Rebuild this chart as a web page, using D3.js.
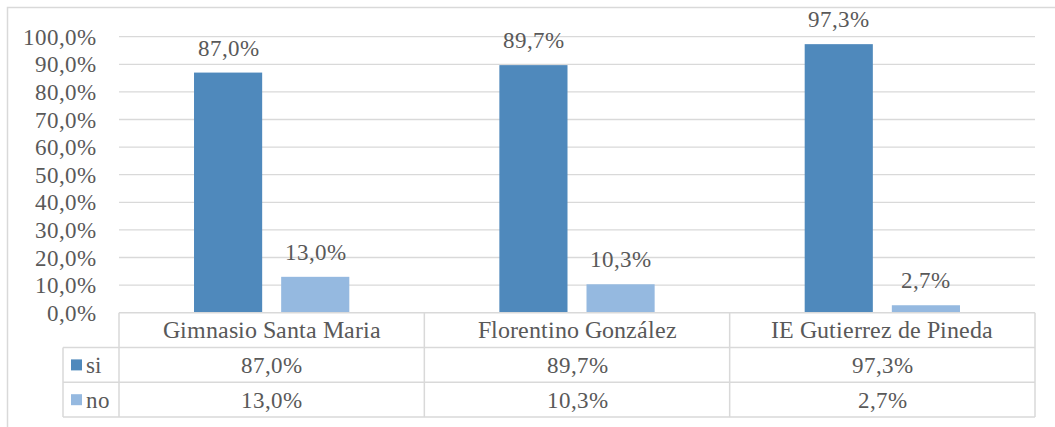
<!DOCTYPE html>
<html>
<head>
<meta charset="utf-8">
<title>si / no</title>
<script src="https://cdn.jsdelivr.net/npm/d3@7"></script>
<style>
  @font-face {
    font-family: "ChartSerif";
    src: local("Liberation Serif"), local("LiberationSerif"), local("LiberationSerif-Regular"),
         local("Times New Roman"), local("DejaVu Serif"), local("DejaVuSerif");
  }
  body { margin: 0; background: #fff; }
  svg text { font-family: "ChartSerif", "Liberation Serif", "Times New Roman", serif; }
</style>
</head>
<body>
<div id="chart"></div>
<script>
// data
var categories = ["Gimnasio Santa Maria", "Florentino González", "IE Gutierrez de Pineda"];
var seriesNames = ["si", "no"];
var siValues = [0.870, 0.897, 0.973];
var noValues = [0.130, 0.103, 0.027];
var yTicks = [0, 0.1, 0.2, 0.3, 0.4, 0.5, 0.6, 0.7, 0.8, 0.9, 1.0];
var colors = { si: "#4f89bc", no: "#95b9e0" };

var W = 1055, H = 427;
var plotLeft = 119, plotRight = 1035, plotTop = 36.7, plotBase = 312.7;
var rowH = 34.8, legendLeft = 63;
var gridColor = "#d9d9d9";
var textColor = "#595959";

var fmt = function(v) { return d3.format(".1f")(v * 100).replace(".", ",") + "%"; };

var svg = d3.select("#chart").append("svg")
  .attr("width", W).attr("height", H)
  .attr("font-size", 23)
  .attr("fill", textColor);

// outer frame
svg.append("rect")
  .attr("x", 7.5).attr("y", 7.5)
  .attr("width", 1070).attr("height", 440)
  .attr("fill", "none").attr("stroke", gridColor).attr("stroke-width", 1.5);

var y = d3.scaleLinear().domain([0, 1]).range([plotBase, plotTop]);
var x0 = d3.scaleBand().domain(categories).range([plotLeft, plotRight]);
var x1 = d3.scaleBand().domain(seriesNames)
  .range([x0.bandwidth() * 0.2457, x0.bandwidth() * 0.7543]).paddingInner(0.218);

// gridlines
svg.append("g").selectAll("line").data(yTicks.slice(1)).enter().append("line")
  .attr("x1", plotLeft).attr("x2", plotRight)
  .attr("y1", d => y(d)).attr("y2", d => y(d))
  .attr("stroke", gridColor).attr("stroke-width", 1.3);

// y axis labels
svg.append("g").selectAll("text").data(yTicks).enter().append("text")
  .attr("x", 96).attr("y", d => y(d))
  .attr("dy", "0.35em")
  .attr("text-anchor", "end")
  .text(fmt);

var rows = categories.map((c, i) => ({ cat: c, si: siValues[i], no: noValues[i] }));

var groups = svg.append("g").selectAll("g").data(rows).enter().append("g")
  .attr("transform", d => "translate(" + x0(d.cat) + ",0)");

groups.selectAll("rect").data(d => seriesNames.map(s => ({ key: s, value: d[s] }))).enter().append("rect")
  .attr("x", d => x1(d.key))
  .attr("y", d => y(d.value))
  .attr("width", x1.bandwidth())
  .attr("height", d => plotBase - y(d.value))
  .attr("fill", d => colors[d.key]);

groups.selectAll("text.lbl").data(d => seriesNames.map(s => ({ key: s, value: d[s] }))).enter().append("text")
  .attr("class", "lbl")
  .attr("x", d => x1(d.key) + x1.bandwidth() / 2)
  .attr("y", d => y(d.value) - 17)
  .attr("text-anchor", "middle")
  .text(d => fmt(d.value));

// data table
var tbl = svg.append("g").attr("stroke", gridColor).attr("stroke-width", 1.5);
var rowYs = [plotBase, plotBase + rowH, plotBase + 2 * rowH, plotBase + 3 * rowH];
rowYs.forEach((yy, i) => {
  tbl.append("line").attr("x1", i === 0 ? plotLeft : legendLeft).attr("x2", plotRight)
    .attr("y1", yy).attr("y2", yy);
});
var colXs = [plotLeft].concat(categories.map(c => x0(c) + x0.bandwidth()));
colXs.forEach(xx => {
  tbl.append("line").attr("x1", xx).attr("x2", xx).attr("y1", plotBase).attr("y2", rowYs[3]);
});
tbl.append("line").attr("x1", legendLeft).attr("x2", legendLeft).attr("y1", rowYs[1]).attr("y2", rowYs[3]);

// header
svg.append("g").selectAll("text").data(categories).enter().append("text")
  .attr("x", d => x0(d) + x0.bandwidth() / 2)
  .attr("y", plotBase + rowH / 2)
  .attr("dy", "0.35em")
  .attr("text-anchor", "middle")
  .style("font-size", "23.5px")
  .text(d => d);

// legend cells and values
var seriesVals = { si: siValues, no: noValues };
seriesNames.forEach((s, r) => {
  var cy = rowYs[r + 1] + rowH / 2;
  svg.append("rect").attr("x", 71).attr("y", cy - 5.5).attr("width", 11).attr("height", 11)
    .attr("fill", colors[s]);
  svg.append("text").attr("x", 86).attr("y", cy).attr("dy", "0.35em").text(s);
  svg.append("g").selectAll("text").data(seriesVals[s]).enter().append("text")
    .attr("x", (d, i) => x0(categories[i]) + x0.bandwidth() / 2)
    .attr("y", cy).attr("dy", "0.35em")
    .attr("text-anchor", "middle")
    .text(fmt);
});
</script>
</body>
</html>
